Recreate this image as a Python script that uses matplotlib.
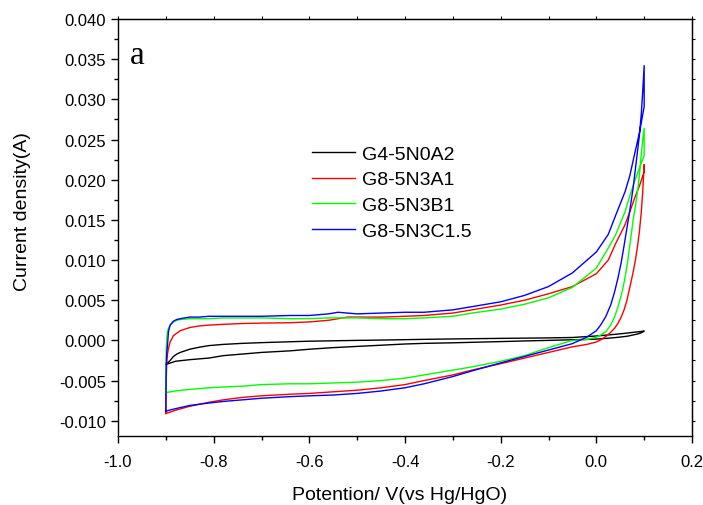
#Voltammogrammes cycliques des quatre échantillons
import numpy as np
import matplotlib
matplotlib.use('Agg')
import matplotlib.pyplot as plt
from matplotlib.ticker import MultipleLocator, FormatStrFormatter, NullFormatter

plt.rcParams['font.family'] = ['Liberation Sans', 'DejaVu Sans']

labels = ['G4-5N0A2', 'G8-5N3A1', 'G8-5N3B1', 'G8-5N3C1.5']
colors = ['#000000', '#ff0000', '#00ff00', '#0000ff']

#balayage aller (de -0.9 V vers 0.1 V)
v_aller = [-0.9, -0.8995, -0.899, -0.898, -0.8965, -0.8945, -0.891, -0.884, -0.877, -0.87,
           -0.86, -0.85, -0.83, -0.81, -0.78, -0.74, -0.7, -0.64, -0.6, -0.56,
           -0.54, -0.52, -0.5, -0.45, -0.4, -0.36, -0.3, -0.26, -0.2, -0.15,
           -0.1, -0.05, 0.0, 0.025, 0.04, 0.06, 0.07, 0.08, 0.09, 0.1]

i_aller_g4 = [-0.0030, -0.00298, -0.00295, -0.0029, -0.0028, -0.0027, -0.0025, -0.0020, -0.0017, -0.0015,
              -0.0013, -0.0011, -0.00085, -0.00065, -0.0005, -0.00037, -0.00028, -0.00017, -0.0001, -0.00006,
              -0.00004, -0.00002, 0.0, 0.00004, 0.00009, 0.00013, 0.00018, 0.00021, 0.00025, 0.00028,
              0.00031, 0.00036, 0.00055, 0.00068, 0.00076, 0.00088, 0.00095, 0.00102, 0.00109, 0.00116]
i_aller_a1 = [-0.0091, -0.0060, -0.0045, -0.0026, -0.0017, -0.0010, -0.0002, 0.0006, 0.0009, 0.0012,
              0.0014, 0.0016, 0.0018, 0.0019, 0.0020, 0.0021, 0.00215, 0.0022, 0.0023, 0.0025,
              0.0027, 0.0029, 0.0029, 0.0029, 0.0030, 0.0031, 0.0034, 0.0038, 0.0044, 0.0050,
              0.0058, 0.0067, 0.0083, 0.0100, 0.0120, 0.0144, 0.0160, 0.0177, 0.0192, 0.0210]
i_aller_b1 = [-0.0065, -0.0030, -0.0010, 0.0003, 0.0011, 0.0015, 0.0019, 0.0023, 0.0025, 0.0026,
              0.00265, 0.0027, 0.0027, 0.0027, 0.0028, 0.0028, 0.0028, 0.0027, 0.0027, 0.0028,
              0.0028, 0.0028, 0.0028, 0.0027, 0.0027, 0.0028, 0.0030, 0.0034, 0.0039, 0.0045,
              0.0053, 0.0066, 0.0090, 0.0115, 0.0131, 0.0160, 0.0180, 0.0198, 0.0214, 0.0230]
i_aller_c15 = [-0.0088, -0.0050, -0.0030, -0.0015, -0.0006, 0.0011, 0.0019, 0.0024, 0.0026, 0.0027,
               0.0028, 0.0029, 0.0029, 0.0030, 0.0030, 0.0030, 0.0030, 0.0031, 0.0031, 0.0033,
               0.0035, 0.0034, 0.0033, 0.0034, 0.0035, 0.0035, 0.0038, 0.0042, 0.0048, 0.0056,
               0.0067, 0.0084, 0.0110, 0.0132, 0.0155, 0.0185, 0.0205, 0.0232, 0.0258, 0.0291]

#balayage retour (de 0.1 V vers -0.9 V)
v_retour = [0.1, 0.097, 0.094, 0.09, 0.086, 0.082, 0.077, 0.07, 0.064, 0.058,
            0.052, 0.045, 0.038, 0.03, 0.02, 0.01, 0.0, -0.02, -0.05, -0.1,
            -0.15, -0.2, -0.26, -0.3, -0.36, -0.4, -0.45, -0.5, -0.55, -0.6,
            -0.64, -0.7, -0.74, -0.78, -0.81, -0.85, -0.88, -0.9]

i_retour_g4 = [0.00116, 0.00104, 0.00095, 0.00087, 0.0008, 0.00074, 0.00068, 0.00058, 0.00052, 0.00047,
               0.00043, 0.00038, 0.00034, 0.0003, 0.00025, 0.0002, 0.00016, 0.00012, 0.00008, 0.0,
               -0.00007, -0.00015, -0.00024, -0.0003, -0.00037, -0.00045, -0.0006, -0.00075, -0.0009, -0.0011,
               -0.0013, -0.0015, -0.0017, -0.0019, -0.0022, -0.0024, -0.0026, -0.0030]
i_retour_a1 = [0.0219, 0.0185, 0.0160, 0.0135, 0.0117, 0.0101, 0.0085, 0.0066, 0.0050, 0.0038,
               0.0029, 0.0021, 0.0015, 0.0010, 0.0005, 0.0001, -0.0002, -0.0005, -0.0008, -0.0015,
               -0.0022, -0.0029, -0.0037, -0.0043, -0.0050, -0.0055, -0.0059, -0.0062, -0.0064, -0.0066,
               -0.0067, -0.0069, -0.0071, -0.0074, -0.0077, -0.0082, -0.0087, -0.0091]
i_retour_b1 = [0.0264, 0.0250, 0.0232, 0.0205, 0.0185, 0.0168, 0.0150, 0.0118, 0.0092, 0.0072,
               0.0056, 0.0041, 0.0029, 0.0019, 0.0011, 0.0007, 0.0004, 0.0001, 0.0000, -0.0009,
               -0.0019, -0.0026, -0.0033, -0.0037, -0.0043, -0.0047, -0.0050, -0.0052, -0.0053, -0.0054,
               -0.0054, -0.0055, -0.0057, -0.0058, -0.0059, -0.0061, -0.0063, -0.0065]
i_retour_c15 = [0.0342, 0.0310, 0.0282, 0.0255, 0.0235, 0.0215, 0.0190, 0.0162, 0.0140, 0.0118,
                0.0097, 0.0077, 0.0060, 0.0044, 0.0030, 0.0020, 0.0012, 0.0004, -0.0004, -0.0012,
                -0.0020, -0.0028, -0.0038, -0.0045, -0.0054, -0.0059, -0.0063, -0.0066, -0.0068, -0.0069,
                -0.0070, -0.0072, -0.0074, -0.0076, -0.0078, -0.0081, -0.0085, -0.0088]

allers = [i_aller_g4, i_aller_a1, i_aller_b1, i_aller_c15]
retours = [i_retour_g4, i_retour_a1, i_retour_b1, i_retour_c15]

fig = plt.figure(figsize=(7.03, 5.06), dpi=100)
ax = fig.add_axes([118/703, 1-437/506, 574/703, 417/506])

for i in range(len(labels)):
    v = v_aller + v_retour   #on ferme la boucle
    courant = allers[i] + retours[i]
    ax.plot(v, courant, color=colors[i], lw=1.0, label=labels[i])

ax.set_xlim(-1.0, 0.2)
ax.set_ylim(-0.0119, 0.040)
ax.xaxis.set_major_locator(MultipleLocator(0.2))
ax.xaxis.set_minor_locator(MultipleLocator(0.1))
ax.yaxis.set_major_locator(MultipleLocator(0.005))
ax.yaxis.set_minor_locator(MultipleLocator(0.0025))
ax.xaxis.set_major_formatter(FormatStrFormatter('%.1f'))
ax.yaxis.set_major_formatter(FormatStrFormatter('%.3f'))
ax.tick_params(which='major', direction='out', length=5, width=1, labelsize=12)
ax.tick_params(axis='x', which='major', pad=8)
ax.tick_params(which='minor', direction='out', length=3, width=1)
for s in ax.spines.values():
    s.set_linewidth(1.0)

#petites graduations en haut et à droite
haut = ax.secondary_xaxis('top')
haut.xaxis.set_major_locator(MultipleLocator(0.1))
haut.xaxis.set_major_formatter(NullFormatter())
haut.tick_params(direction='out', length=2, width=0.8)
droite = ax.secondary_yaxis('right')
droite.yaxis.set_major_locator(MultipleLocator(0.0025))
droite.yaxis.set_major_formatter(NullFormatter())
droite.tick_params(direction='out', length=2, width=0.8)

ax.set_xlabel('Potention/ V(vs Hg/HgO)', fontsize=14)
ax.set_ylabel('Current density(A)', fontsize=14)
ax.xaxis.set_label_coords(0.49, -0.121)
ax.yaxis.set_label_coords(-0.152, 0.54)

ax.text(0.021, 0.915, 'a', transform=ax.transAxes, fontsize=24,
        family='Liberation Serif', va='center', ha='left')

ax.legend(loc='upper left', bbox_to_anchor=(312/703, 1-146/506), bbox_transform=fig.transFigure,
          frameon=False, fontsize=14, handlelength=2.2, handletextpad=0.35,
          labelspacing=0.42, borderpad=0, borderaxespad=0)

fig.savefig('out.png', dpi=100)
